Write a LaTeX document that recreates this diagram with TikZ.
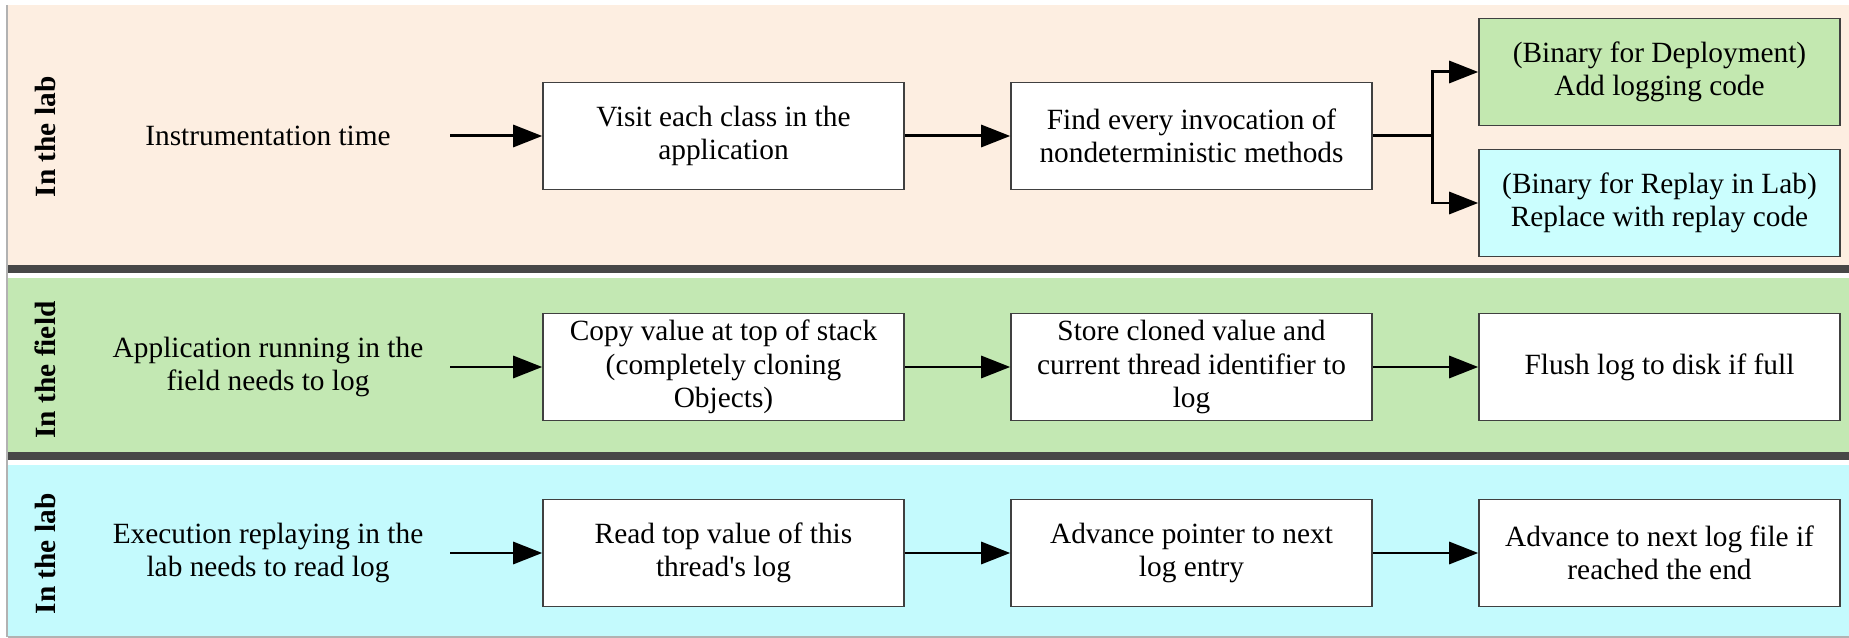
\documentclass[tikz,border=0pt]{standalone}
\usepackage{fontspec}
\setmainfont{Liberation Serif}
\usetikzlibrary{arrows.meta}
\definecolor{labpeach}{HTML}{FDEEE1}
\definecolor{fieldgreen}{HTML}{C3E8B3}
\definecolor{replaycyan}{HTML}{C4FAFD}
\definecolor{deploygreen}{HTML}{C3E8B0}
\definecolor{replaybox}{HTML}{CBFEFE}
\tikzset{
	stepbox/.style={draw=black!75, fill=white, line width=0.9pt, minimum width=7.22cm, minimum height=2.14cm, align=center, inner sep=0pt},
	lefttext/.style={minimum width=7.28cm, align=center, inner sep=0pt},
	bandlabel/.style={rotate=90, font=\fontsize{16.7}{19}\selectfont\bfseries},
	flow/.style={line width=1.7pt, -{Triangle[length=0.58cm, width=0.44cm]}}
}
\begin{document}
\begin{tikzpicture}[font=\fontsize{16.7}{19}\selectfont]
			\useasboundingbox (0,0) rectangle (36.98,12.76);

			% bands
			\fill[labpeach] (0.16,7.46) rectangle (36.98,12.66);
			\fill[fieldgreen] (0.16,3.72) rectangle (36.98,7.20);
			\fill[replaycyan] (0.16,0.02) rectangle (36.98,3.46);
			\fill[black!72] (0.16,7.30) rectangle (36.98,7.46);
			\fill[black!72] (0.16,3.56) rectangle (36.98,3.72);
			\draw[black!30, line width=1pt] (0.14,0.02) -- (0.14,12.66);
			\draw[black!30, line width=0.6pt] (0.16,0.02) -- (36.98,0.02);

			\node[bandlabel] (lab1) at (0.9,10.02) {In the lab};
			\node[bandlabel] (field) at (0.9,5.36) {In the field};
			\node[bandlabel] (lab2) at (0.9,1.68) {In the lab};

			\begin{scope}[every node/.style={lefttext}]
				\node (time) at (5.36,10.04) {Instrumentation time};
				\node (run) at (5.36,5.42) {Application running in the\\field needs to log};
				\node (exec) at (5.36,1.70) {Execution replaying in the\\lab needs to read log};
			\end{scope}

			\begin{scope}[every node/.style={stepbox}]
				\node (visit) at (14.47,10.04) {Visit each class in the\\application};
				\node (find) at (23.83,10.04) {Find every invocation of\\nondeterministic methods};
				\node[fill=deploygreen] (deploy) at (33.19,11.32) {(Binary for Deployment)\\Add logging code};
				\node[fill=replaybox] (replay) at (33.19,8.70) {(Binary for Replay in Lab)\\Replace with replay code};

				\node (copy) at (14.47,5.42) {Copy value at top of stack\\(completely cloning\\Objects)};
				\node (store) at (23.83,5.42) {Store cloned value and\\current thread identifier to\\log};
				\node (flush) at (33.19,5.42) {Flush log to disk if full};

				\node (read) at (14.47,1.70) {Read top value of this\\thread\textquotesingle s log};
				\node (pointer) at (23.83,1.70) {Advance pointer to next\\log entry};
				\node (next) at (33.19,1.70) {Advance to next log file if\\reached the end};
			\end{scope}

			\coordinate (fork) at (28.64,10.04);

			\draw[flow] (time) -- (visit);
			\draw[flow] (visit) -- (find);
			\draw[flow] (find.east) -- (fork) |- (deploy.west);
			\draw[flow] (fork) |- (replay.west);

			\draw[flow] (run) -- (copy);
			\draw[flow] (copy) -- (store);
			\draw[flow] (store) -- (flush);

			\draw[flow] (exec) -- (read);
			\draw[flow] (read) -- (pointer);
			\draw[flow] (pointer) -- (next);
		\end{tikzpicture}
\end{document}
